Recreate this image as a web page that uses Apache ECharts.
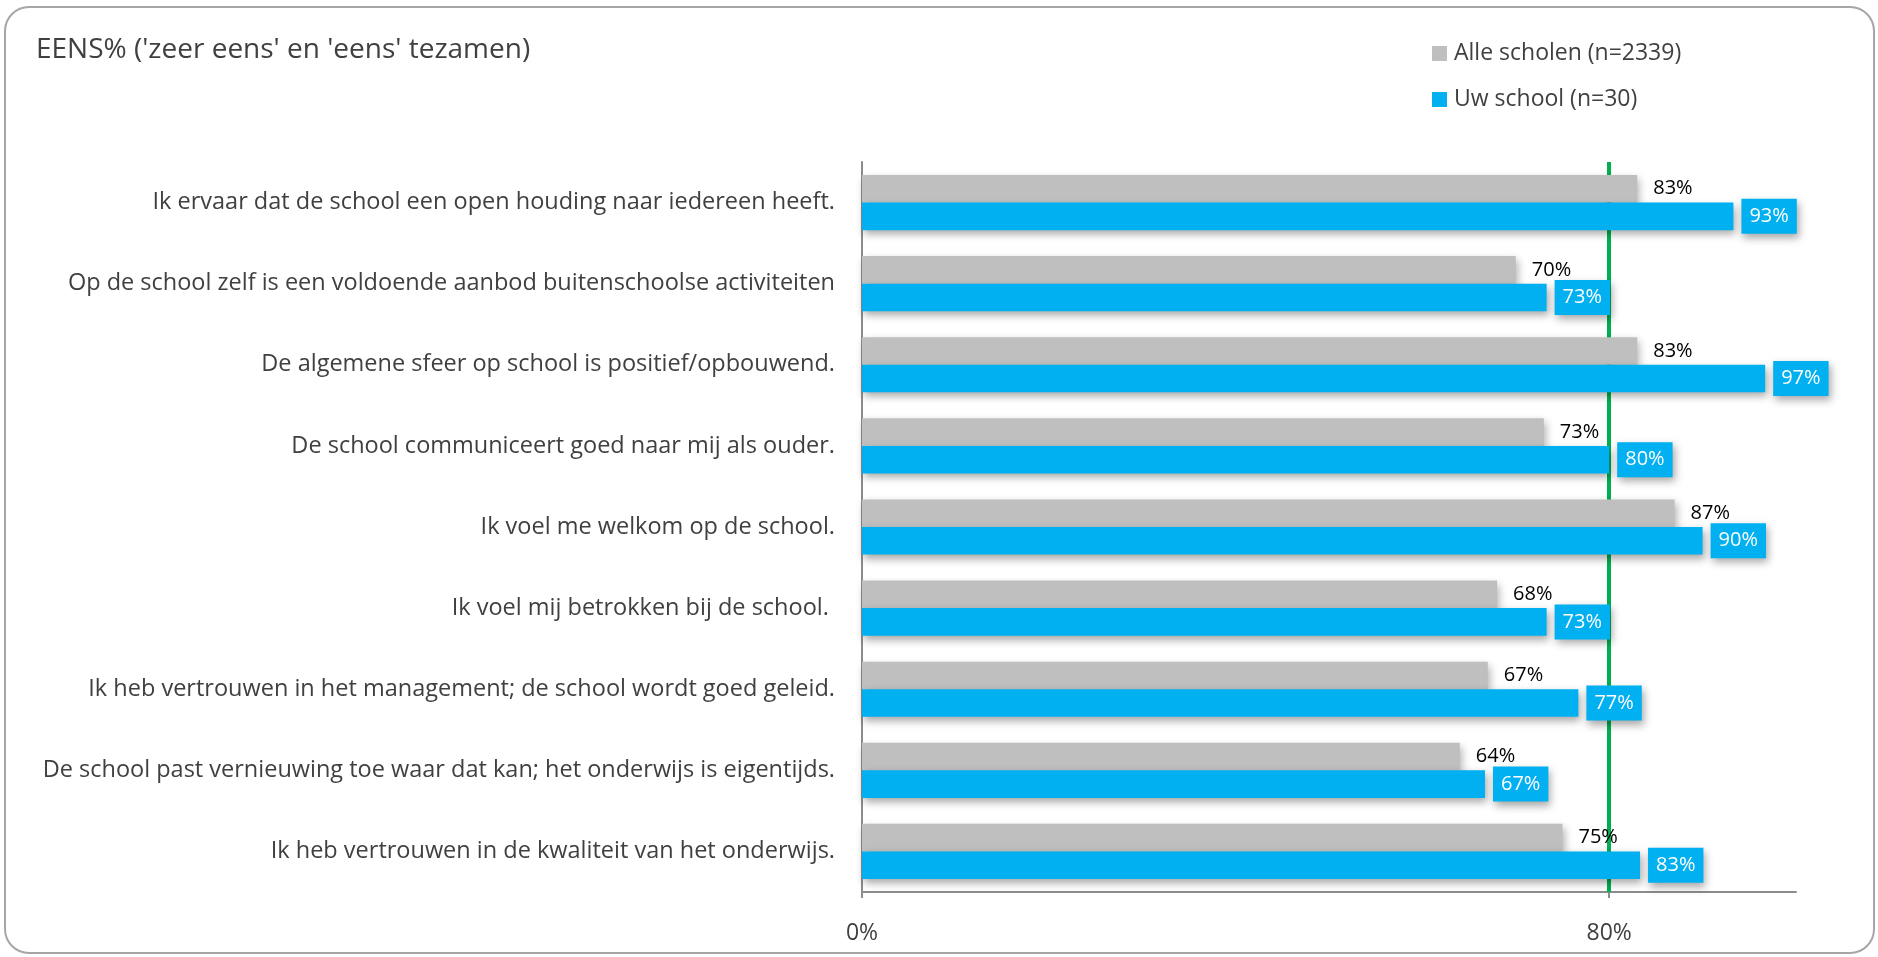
<!DOCTYPE html>
<html>
<head>
<meta charset="utf-8">
<script src="https://cdn.jsdelivr.net/npm/echarts@6/dist/echarts.min.js"></script>
<style>
  html, body { margin: 0; padding: 0; background: #fff; }
  #chart { width: 1878px; height: 957px; }
</style>
</head>
<body>
<div id="chart"></div>
<script>
const categories = [
  "Ik ervaar dat de school een open houding naar iedereen heeft.",
  "Op de school zelf is een voldoende aanbod buitenschoolse activiteiten",
  "De algemene sfeer op school is positief/opbouwend.",
  "De school communiceert goed naar mij als ouder.",
  "Ik voel me welkom op de school.",
  "Ik voel mij betrokken bij de school. ",
  "Ik heb vertrouwen in het management; de school wordt goed geleid.",
  "De school past vernieuwing toe waar dat kan; het onderwijs is eigentijds.",
  "Ik heb vertrouwen in de kwaliteit van het onderwijs."
]
const alleScholen = [83, 70, 83, 73, 87, 68, 67, 64, 75]
const uwSchool = [93.3, 73.3, 96.7, 80, 90, 73.3, 76.7, 66.7, 83.3]
const norm = 80
const axisTicks = [0, 80]

const font = "'Open Sans', sans-serif"
const chart = echarts.init(document.getElementById("chart"))

const pct = (p) => Math.round(p.value) + "%"

const option = {
  backgroundColor: "#fff",
  animation: false,
  textStyle: { fontFamily: font },
  graphic: [
    {
      type: "rect",
      shape: { x: 5, y: 7, width: 1869, height: 946, r: 24 },
      style: { fill: "none", stroke: "#a6a6a6", lineWidth: 2 },
      silent: true,
      z: -1
    }
  ],
  title: {
    text: "EENS% ('zeer eens' en 'eens' tezamen)",
    left: 31,
    top: 31,
    textStyle: { fontFamily: font, fontSize: 28, fontWeight: "normal", color: "#404040" }
  },
  legend: {
    orient: "vertical",
    left: 1427,
    top: 37,
    itemWidth: 15,
    itemHeight: 15,
    itemGap: 23,
    icon: "rect",
    textStyle: { fontFamily: font, fontSize: 23, color: "#404040", padding: [0, 0, 0, 2] },
    data: ["Alle scholen (n=2339)", "Uw school (n=30)"]
  },
  grid: {
    left: 862,
    right: 82,
    top: 162,
    bottom: 65,
    containLabel: false
  },
  xAxis: {
    type: "value",
    min: 0,
    max: 100,
    interval: 80,
    splitLine: { show: false },
    axisLine: { show: true, lineStyle: { color: "#8c8c8c", width: 2 } },
    axisTick: { show: true, length: 6, customValues: axisTicks, lineStyle: { color: "#8c8c8c", width: 2 } },
    axisLabel: {
      customValues: axisTicks,
      formatter: "{value}%",
      margin: 30,
      fontFamily: font,
      fontSize: 23,
      color: "#404040"
    }
  },
  yAxis: {
    type: "category",
    inverse: true,
    data: categories,
    axisLine: { show: true, lineStyle: { color: "#8c8c8c", width: 2 } },
    axisTick: { show: false },
    axisLabel: {
      margin: 27,
      fontFamily: font,
      fontSize: 23.5,
      color: "#404040"
    }
  },
  series: [
    {
      name: "Alle scholen (n=2339)",
      type: "bar",
      data: alleScholen,
      barGap: "0%",
      barCategoryGap: "32%",
      itemStyle: {
        color: "#bfbfbf",
        shadowColor: "rgba(0,0,0,0.3)",
        shadowBlur: 8,
        shadowOffsetX: 2,
        shadowOffsetY: 4
      },
      label: {
        show: true,
        position: "right",
        distance: 16,
        formatter: pct,
        fontFamily: font,
        fontSize: 20,
        color: "#000"
      },
      z: 3
    },
    {
      name: "Uw school (n=30)",
      type: "bar",
      data: uwSchool,
      barGap: "0%",
      barCategoryGap: "32%",
      itemStyle: {
        color: "#00b0f0",
        shadowColor: "rgba(0,0,0,0.35)",
        shadowBlur: 8,
        shadowOffsetX: 2,
        shadowOffsetY: 4
      },
      label: {
        show: true,
        position: "right",
        distance: 8,
        formatter: pct,
        fontFamily: font,
        fontSize: 20,
        color: "#fff",
        backgroundColor: "#00b0f0",
        padding: [8, 8, 7, 8],
        shadowColor: "rgba(0,0,0,0.35)",
        shadowBlur: 8,
        shadowOffsetX: 2,
        shadowOffsetY: 4
      },
      markLine: {
        silent: true,
        z: 1,
        symbol: "none",
        label: { show: false },
        lineStyle: { color: "#00b050", width: 4, type: "solid" },
        data: [{ xAxis: norm }]
      },
      z: 3
    }
  ]
}

chart.setOption(option)
</script>
</body>
</html>
